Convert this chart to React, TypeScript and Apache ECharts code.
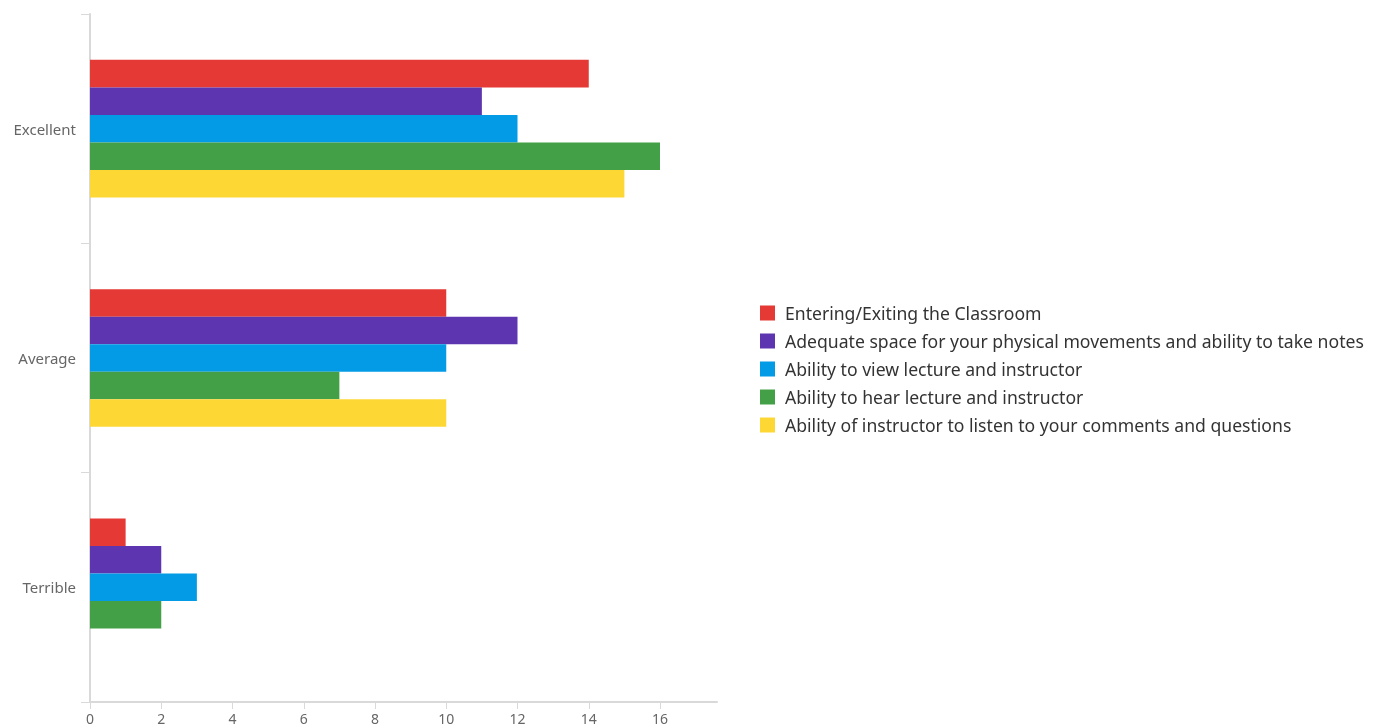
import React, { useEffect, useRef } from "react";
import * as echarts from "echarts";

const categories = ["Excellent", "Average", "Terrible"];
const seriesNames = [
  "Entering/Exiting the Classroom",
  "Adequate space for your physical movements and ability to take notes",
  "Ability to view lecture and instructor",
  "Ability to hear lecture and instructor",
  "Ability of instructor to listen to your comments and questions",
];
const enteringExiting = [14, 10, 1];
const adequateSpace = [11, 12, 2];
const viewLecture = [12, 10, 3];
const hearLecture = [16, 7, 2];
const instructorListen = [15, 10, 0];
const xTicks = [0, 2, 4, 6, 8, 10, 12, 14, 16];
const colors = ["#e53935", "#5e35b1", "#039be5", "#43a047", "#fdd835"];

export default function App() {
  const ref = useRef<HTMLDivElement>(null);
  useEffect(() => {
    if (!ref.current) return;
    const chart = echarts.init(ref.current, undefined, { renderer: "svg" });
    const values = [enteringExiting, adequateSpace, viewLecture, hearLecture, instructorListen];
    chart.setOption({
      animation: false,
      textStyle: { fontFamily: "Noto Sans" },
      color: colors,
      grid: { left: 90, top: 14, right: 668, bottom: 26, containLabel: false },
      legend: {
        orient: "vertical",
        left: 755,
        top: 299,
        itemWidth: 15,
        itemHeight: 15,
        itemGap: 10,
        icon: "rect",
        textStyle: { fontSize: 17.6, color: "#333", fontFamily: "Noto Sans", padding: [0, 0, 0, 5] },
        data: seriesNames,
      },
      xAxis: {
        type: "value",
        min: 0,
        max: 17.6,
        interval: 2,
        splitLine: { show: false },
        axisLine: { show: true, lineStyle: { color: "#d9d9d9", width: 2 } },
        axisTick: { show: true, length: 7, lineStyle: { color: "#d9d9d9", width: 1 }, customValues: xTicks },
        axisLabel: { color: "#666", fontSize: 14, margin: 9, customValues: xTicks },
      },
      yAxis: {
        type: "category",
        inverse: true,
        data: categories,
        axisLine: { show: true, lineStyle: { color: "#d9d9d9", width: 2 } },
        axisTick: { show: true, length: 9, lineStyle: { color: "#d9d9d9", width: 1 } },
        axisLabel: { color: "#666", fontSize: 15, margin: 14 },
      },
      series: seriesNames.map((name, i) => ({
        name,
        type: "bar",
        data: values[i],
        barGap: "0%",
        barCategoryGap: "40%",
      })),
    });
    return () => chart.dispose();
  }, []);
  return (
    <div
      ref={ref}
      style={{ position: "fixed", left: 0, top: 0, width: 1385, height: 728 }}
    />
  );
}
